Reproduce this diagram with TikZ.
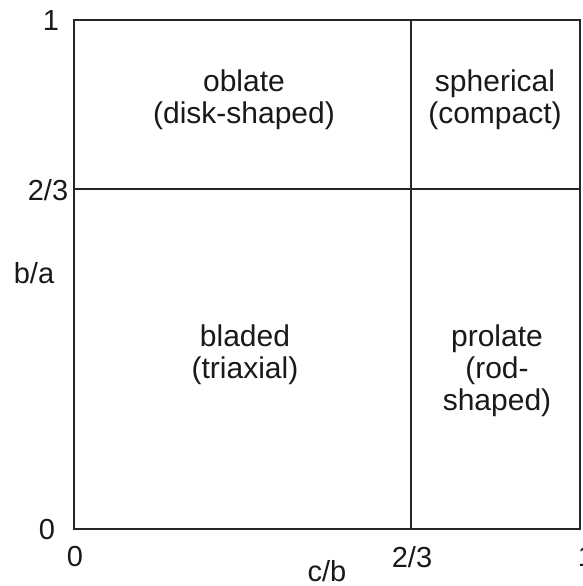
\documentclass[tikz,border=0pt]{standalone}
\usepackage{fontspec}
\setmainfont{Liberation Sans}
\usepackage{tikz}
\tikzset{
	zone/.style={align=center, font=\fontsize{30}{32}\selectfont, text=black!90, inner sep=0pt},
	tick/.style={font=\fontsize{29}{32}\selectfont, text=black!90, inner sep=0pt}
}
\begin{document}
\begin{tikzpicture}[x=1pt, y=-1pt]
		%%%%% START %%%%%
		\useasboundingbox (0, 0) rectangle (582, 586);
		
		\draw[line width=1.6pt, color=black!85] (74, 20) rectangle (580, 529);
		\draw[line width=1.6pt, color=black!85] (74, 189) -- (580, 189);
		\draw[line width=1.6pt, color=black!85] (411, 20) -- (411, 529);
		
		\node[zone] (oblate) at (244, 99.5) {oblate\\(disk-shaped)};
		\node[zone] (spherical) at (495, 100) {spherical\\(compact)};
		\node[zone] (bladed) at (245, 354.5) {bladed\\(triaxial)};
		\node[zone] (prolate) at (497, 370.5) {prolate\\(rod-\\shaped)};
		
		\node[tick] (yone) at (51, 21) {1};
		\node[tick] (ytwothirds) at (48, 190) {2/3};
		\node[tick] (ylabel) at (34, 273) {b/a};
		\node[tick] (yzero) at (47, 530) {0};
		
		\node[tick] (xzero) at (75, 557) {0};
		\node[tick] (xtwothirds) at (412, 557) {2/3};
		\node[tick] (xone) at (586, 557) {1};
		\node[tick] (xlabel) at (327, 571) {c/b};
		
		%%%%% END %%%%%
	\end{tikzpicture}
\end{document}
